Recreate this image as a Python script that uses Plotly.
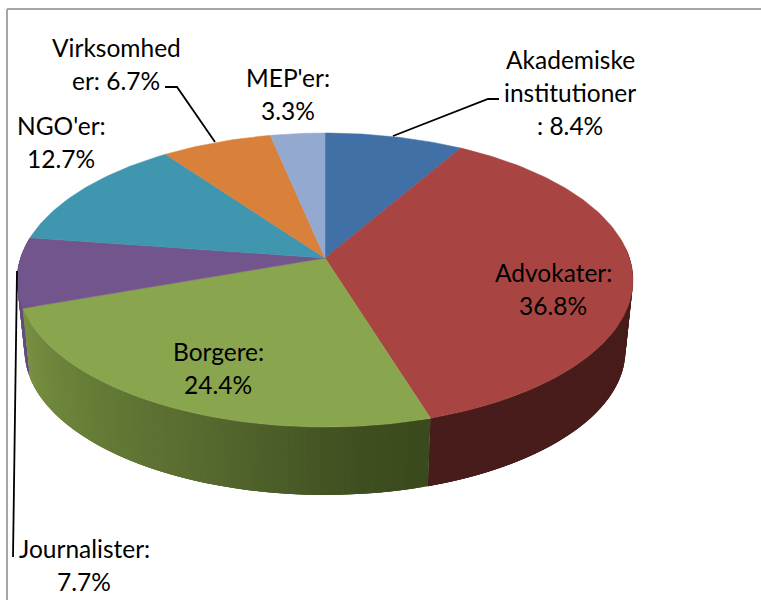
import math
import plotly.graph_objects as go

categories = ["Akademiske institutioner", "Advokater", "Borgere", "Journalister", "NGO'er", "Virksomheder", "MEP'er"]
shares = [8.4, 36.8, 24.4, 7.7, 12.7, 6.7, 3.3]
top_colors = ["#4170a6", "#a84542", "#89a54d", "#72558c", "#3f96ae", "#d9803a", "#93a9d0"]

# label text, split in the lines the reference breaks at
label_lines = [
    ["Akademiske", "institutioner", ": 8.4%"],
    ["Advokater:", "36.8%"],
    ["Borgere:", "24.4%"],
    ["Journalister:", "7.7%"],
    ["NGO'er:", "12.7%"],
    ["Virksomhed", "er: 6.7%"],
    ["MEP'er:", "3.3%"],
]
label_x = [570, 553, 218, 84, 61, 116, 288]
label_y = [59, 272, 351, 548, 125, 47, 77]
line_step = 33

leader_x = [[393, 488, 499], [165, 177, 215], [17, 13]]
leader_y = [[136, 99, 99], [87, 87, 142], [271, 557]]

# projection of the tilted pie
CX, CY = 325, 258
RX, RY, K = 304.5, 143.7, 0.15
RX2, RY2, CY2 = 297, 141, 329


def top(t):
    w = 1 + K * math.cos(t)
    return CX + RX * math.sin(t) / w, CY - RY * math.cos(t) / w


def low(t):
    w = 1 + K * math.cos(t)
    return CX + RX2 * math.sin(t) / w, CY2 - RY2 * math.cos(t) / w


def mix(stops, f):
    for (a, ca), (b, cb) in zip(stops, stops[1:]):
        if f <= b:
            u = (f - a) / (b - a)
            c = [round(p + (q - p) * u) for p, q in zip(ca, cb)]
            return f"rgb({c[0]},{c[1]},{c[2]})"
    c = stops[-1][1]
    return f"rgb({c[0]},{c[1]},{c[2]})"


# shade along each wall, from its clockwise start to its end
side_shades = {
    1: [(0.0, (72, 28, 26)), (1.0, (72, 28, 26))],
    2: [(0.0, (58, 74, 28)), (0.12, (62, 78, 32)), (0.45, (88, 108, 48)), (0.8, (108, 132, 58)), (1.0, (122, 145, 66))],
    3: [(0.0, (100, 78, 126)), (1.0, (100, 78, 126))],
}

fig = go.Figure()
total = sum(shares)
edges = [0]
for s in shares:
    edges.append(edges[-1] + s / total * 2 * math.pi)

# side wall: strips overlap the previous one so no seams show; drawn from the far end backwards
for i in (3, 1, 2):
    a, b = edges[i], edges[i + 1]
    if i == 3:
        b = min(b, math.radians(285))
    a = max(a, math.radians(85))
    n = max(6, int((b - a) / math.radians(1.0)))
    for j in range(n):
        t0 = a + (b - a) * j / n
        t1 = min(b, a + (b - a) * (j + 3) / n)
        samples = [t0 + (t1 - t0) * m / 4 for m in range(5)]
        p = [top(t) for t in samples] + [low(t) for t in reversed(samples)]
        p.append(p[0])
        col = mix(side_shades[i], (j + 0.5) / n)
        fig.add_trace(go.Scatter(x=[q[0] for q in p], y=[q[1] for q in p], mode="lines", fill="toself",
                                 fillcolor=col, line=dict(width=0), hoverinfo="skip", showlegend=False))

# top face
for i, name in enumerate(categories):
    a, b = edges[i], edges[i + 1]
    n = max(8, int((b - a) / math.radians(1)))
    pts = [(CX, CY)] + [top(a + (b - a) * j / n) for j in range(n + 1)] + [(CX, CY)]
    fig.add_trace(go.Scatter(x=[q[0] for q in pts], y=[q[1] for q in pts], mode="lines", fill="toself",
                             fillcolor=top_colors[i], line=dict(color=top_colors[i], width=0.5),
                             name=name, showlegend=False))

# leader lines
for lx, ly in zip(leader_x, leader_y):
    fig.add_trace(go.Scatter(x=lx, y=ly, mode="lines", line=dict(color="black", width=1.8),
                             hoverinfo="skip", showlegend=False))

# labels
ann = []
for lines, x, y in zip(label_lines, label_x, label_y):
    for k, txt in enumerate(lines):
        ann.append(dict(x=x, y=y + k * line_step, text=txt, showarrow=False, xanchor="center", yanchor="middle",
                        font=dict(family="Lato, Carlito, sans-serif", size=24.5, color="black")))

fig.update_layout(
    width=761, height=600, margin=dict(l=0, r=0, t=0, b=0),
    paper_bgcolor="white", plot_bgcolor="white", annotations=ann,
    xaxis=dict(range=[0, 761], visible=False, fixedrange=True),
    yaxis=dict(range=[600, 0], visible=False, fixedrange=True),
    shapes=[
        dict(type="line", x0=7, x1=7, y0=9, y1=600, line=dict(color="#a6a6a6", width=2)),
        dict(type="line", x0=7, x1=761, y0=9, y1=9, line=dict(color="#a6a6a6", width=2)),
    ],
)
fig.write_html("out.html", config=dict(displayModeBar=False),
               post_script="document.body.style.margin='0';document.body.style.overflow='hidden';")
